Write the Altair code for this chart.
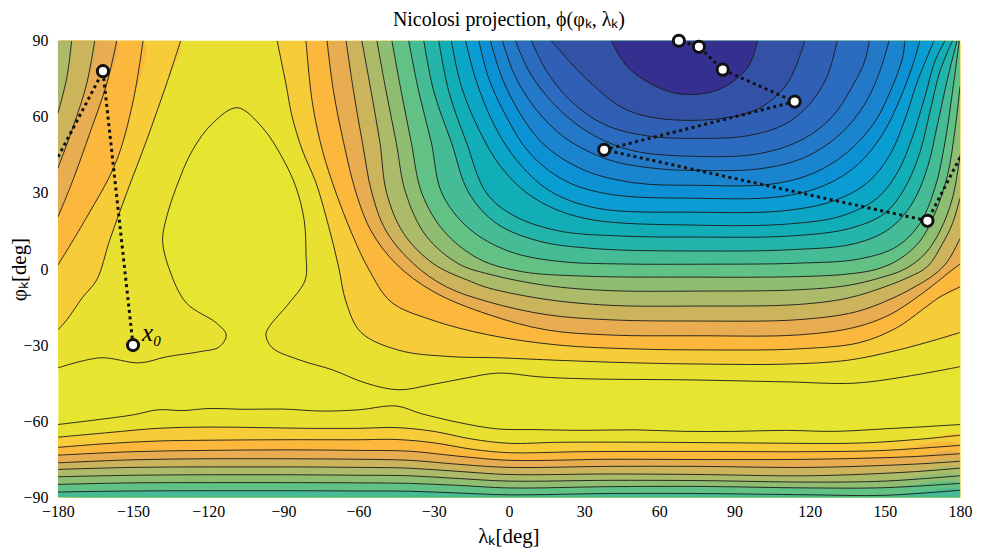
import altair as alt
import pandas as pd

# ---------------- colours of the 21 filled bands (lowest -> highest) ----------------
BANDS = ["#35308f", "#3352a6", "#2f60b5", "#2b6cc0", "#2478c8", "#1a84cf", "#0d91d5",
         "#099dd3", "#0ba6c6", "#12aeb8", "#23b5a9", "#45bc96", "#62c184", "#8fbe72",
         "#abbb69", "#cbb45c", "#e8ad50", "#fbb83c", "#f6cc39", "#e8e132", "#e6e530"]

# ---------------- contour lines (lambda_K, phi_K) ----------------
# northern basin contours, level 1 (innermost) .. level 20
N01 = [(40.8, 90), (47.5, 79.5), (60.6, 71.1), (71.4, 68.8), (84.5, 71.1), (95.3, 79.5), (99.2, 90)]
N02 = [(16.9, 90), (31.6, 74.3), (47.5, 62.5), (71.4, 58.6), (98, 62.5), (111, 73), (118, 90)]
N03 = [(9, 90), (15, 78), (25, 66), (38, 57), (55, 52.5), (75, 51.5), (95, 52.5), (110, 57), (120, 65), (127, 76), (131, 90)]
N04 = [(2.6, 90), (8, 78), (17, 66), (30, 55), (48, 47), (75, 44.4), (100, 45.5), (117, 51), (129, 60), (137, 72), (142, 82), (143.8, 90)]
N05 = [(-2.6, 90), (2, 77), (10, 64), (22, 52), (40, 43), (60, 39.5), (75, 38.9), (100, 39.5), (118, 44), (132, 53), (142, 65), (148, 78), (151.7, 90)]
N06 = [(-7.4, 90), (-3, 76), (4, 62), (14, 49), (30, 39), (50, 34), (75, 33), (105, 33.5), (122, 38), (135, 46), (146, 58), (153, 72), (157, 83), (158, 90)]
N07 = [(-12, 90), (-8, 75), (-1, 60), (8, 46), (22, 35), (40, 29.5), (75, 27.9), (108, 28.5), (126, 33), (139, 41), (149, 53), (156, 67), (161, 80), (164, 90)]
N08 = [(-17.3, 90), (-13, 74), (-6, 57), (3, 43), (16, 31), (35, 24), (75, 22.4), (110, 23), (130, 27), (143, 34), (152, 45), (158, 59), (163, 74), (169.6, 90)]
N09 = [(-23, 90), (-19, 72), (-12, 55), (-3, 40), (10, 28), (30, 20), (75, 17.3), (112, 17.8), (133, 21), (147, 28), (155, 38), (161, 52), (166, 68), (170, 82), (174, 90)]
N10 = [(-28, 90), (-24, 70), (-17, 50), (-9, 30), (2, 21), (20, 15), (45, 13), (75, 12.6), (112, 13), (136, 16), (150, 22), (158, 32), (164, 46), (168, 62), (172, 78), (177, 90)]
N11 = [(-34, 90), (-30, 70), (-23, 50), (-16, 30), (-5, 18), (12, 11), (35, 8), (75, 7.1), (112, 7.6), (138, 10), (152, 16), (161, 26), (167, 40), (171, 57), (175, 75), (178.8, 90)]
N12 = [(-40, 90), (-36, 70), (-31, 50), (-26.8, 30), (-16, 16), (0, 7), (20, 3), (45, 2), (75, 1.9), (115, 2.3), (140, 4), (155, 9), (164, 18), (170, 32), (174, 50), (177, 70), (179.7, 90)]
N13 = [(-46.7, 90), (-43, 70), (-39, 50), (-34.8, 30), (-26, 15), (-12, 4), (5, -1), (30, -2.8), (75, -3.2), (115, -3), (135, -2), (147, 0), (156, 4), (164, 11), (170, 22), (175, 37), (178, 55), (180, 72)]
N14 = [(-52.7, 90), (-49, 70), (-45, 50), (-41.2, 30), (-33, 13), (-20, 2), (-8, -2), (15, -6.5), (40, -8.5), (75, -8.7), (115, -8.2), (135, -6.5), (148, -3.5), (158, 0), (166, 6), (172, 15), (177, 28), (180, 45)]
N15 = [(-58.7, 90), (-55, 70), (-51.5, 50), (-48.8, 30), (-42, 14), (-30, 2), (-15, -5), (-8, -7.5), (15, -12), (40, -14.3), (75, -14.6), (115, -14), (135, -11.5), (150, -7), (160, -3), (167, 1), (173, 10), (177, 18), (180, 28)]
N16 = [(-65, 90), (-62, 70), (-58.5, 50), (-54.7, 30), (-49, 15), (-38, 2), (-25, -7), (-8, -13), (15, -18), (40, -20), (75, -20.5), (115, -20), (138, -17), (152, -12), (162, -7), (170, -2), (175, 3), (180, 12)]
N17 = [(-72.6, 90), (-70, 70), (-66, 50), (-61, 30), (-55, 15), (-45, 2), (-30, -9), (-8, -18), (15, -24), (40, -26), (75, -26.3), (115, -26), (138, -23), (152, -18), (163, -11), (171, -5), (176, -1), (180, 2)]
N18 = [(-81, 90), (-78.5, 66), (-74.5, 47), (-69, 30), (-62.7, 14), (-56, 0), (-47, -13), (-31, -20), (-8, -26), (20, -30), (50, -31.5), (80, -31.9), (115, -31.5), (140, -29), (155, -23), (165, -16), (172, -11), (180, -7)]
N19 = [(-92.5, 90), (-89, 73), (-86.5, 60), (-82.5, 47), (-77, 34), (-72, 17), (-68, 1), (-65, -13), (-59, -25), (-44, -32), (-24, -34.5), (-4, -35), (20, -36), (50, -37), (80, -37.5), (110, -37.5), (135, -36), (155, -32), (170, -28), (180, -25)]
N20 = [(-180, -39), (-163, -35), (-147.4, -37), (-136.6, -34.6), (-123.5, -32.6), (-115.6, -30.7), (-112.8, -26),
       (-116.7, -21.3), (-128.7, -13.4), (-135.4, -0.4), (-138.2, 11.4), (-136.6, 20.4), (-132.7, 32.3),
       (-126.3, 46.8), (-118.3, 57.4), (-108.4, 63.6), (-98.4, 55.8), (-90.5, 44), (-85, 32.3), (-81.7, 19.2),
       (-81, 6.3), (-81.3, -4.3), (-87.7, -13.4), (-95.7, -22.8), (-97, -26), (-94.5, -31), (-83.7, -35.8),
       (-70.6, -39.7), (-57, -45), (-44, -47.6), (-31, -45.6), (-17.3, -43), (-4, -41), (12, -42.5),
       (31.6, -43.3), (71.4, -43.7), (111, -44.5), (137.8, -45), (157.7, -42.5), (180, -38.5)]

# contours that come in through the left edge and leave through the top edge
W15 = [(-180, 61.3), (-176.4, 75.5), (-174.5, 90)]
W16 = [(-180, 39.7), (-174, 55.8), (-168.5, 73), (-165.3, 90)]
W17 = [(-180, 20.4), (-174, 35), (-167.3, 53.4), (-160.5, 73), (-156.5, 90)]
W18 = [(-180, 1.5), (-168.5, 20.4), (-157, 41.6), (-150, 66), (-146, 90)]
W19 = [(-180, -24), (-176.4, -20), (-170, -11), (-164.5, -4.3), (-159.3, 11.4), (-152.6, 29.8), (-144.6, 50.7), (-136.6, 73.1), (-131, 90)]

# southern contours, level 12 .. level 20
S12 = [(-180, -87.9), (-150, -87.5), (-120, -87.4), (-90, -87.4), (-60, -87.5), (-40, -87.6), (-20, -88.3), (0, -89), (40, -88.5), (75, -88.5), (120, -89), (150, -89.2), (180, -87.2)]
S13 = [(-180, -84.9), (-150, -84.3), (-120, -84.2), (-90, -84.2), (-60, -84.3), (-40, -84.5), (-20, -85.3), (0, -86.3), (40, -85.8), (75, -85.7), (120, -86.3), (150, -86.2), (180, -84.5)]
S14 = [(-180, -81.9), (-150, -81.3), (-120, -81.1), (-90, -81.1), (-60, -81.3), (-40, -81.5), (-20, -82.6), (0, -83.6), (40, -83.3), (75, -83.4), (120, -84), (150, -83.6), (180, -81.5)]
S15 = [(-180, -79), (-150, -78.2), (-120, -78), (-90, -78), (-60, -78.2), (-40, -78.5), (-20, -79.8), (0, -81), (40, -80.8), (75, -81), (120, -81.5), (160, -80), (180, -78.5)]
S16 = [(-180, -76.4), (-150, -75.2), (-120, -74.8), (-90, -74.8), (-60, -75), (-40, -75.4), (-20, -77), (0, -78.2), (40, -77.8), (75, -77.8), (120, -78.2), (160, -77), (180, -75.8)]
S17 = [(-180, -73.4), (-150, -72), (-120, -71.5), (-90, -71.3), (-60, -71.5), (-40, -71.8), (-20, -73.8), (0, -75.4), (40, -75), (75, -75.1), (120, -75), (160, -74), (180, -72.8)]
S18 = [(-180, -70.3), (-160, -68.8), (-140, -67.8), (-120, -67.5), (-90, -67.3), (-60, -67.3), (-45, -67.2), (-30, -68.5), (-15, -71), (0, -72.4), (30, -72), (75, -71.9), (120, -72), (150, -71.5), (180, -69.5)]
S19 = [(-180, -66.3), (-160, -64.5), (-140, -62.8), (-120, -62.3), (-100, -62.5), (-80, -62.8), (-60, -62.8), (-45, -62.5), (-30, -64), (-15, -67), (0, -68.7), (20, -68.3), (60, -68.3), (100, -68.6), (140, -68.6), (165, -67), (180, -65.5)]
S20 = [(-180, -61.3), (-165, -59.5), (-150, -57.5), (-140, -55.5), (-130, -55.8), (-120, -55), (-105, -55.3), (-90, -55.2),
       (-75, -56), (-60, -55.5), (-45, -54), (-35, -57), (-20, -60.5), (-5, -63), (10, -63.3), (30, -63.6), (50, -63.4),
       (70, -64), (90, -64), (110, -63.6), (130, -64), (150, -63), (165, -62.2), (180, -61.3)]

NORTH = [N01, N02, N03, N04, N05, N06, N07, N08, N09, N10, N11, N12, N13, N14, N15, N16, N17, N18, N19, N20]
WRAP = {15: W15, 16: W16, 17: W17, 18: W18, 19: W19}
SOUTH = {12: S12, 13: S13, 14: S14, 15: S15, 16: S16, 17: S17, 18: S18, 19: S19, 20: S20}

# optimisation path (x0 first); the jump across the seam is at phi ~ 44
PATH_A = [(-150, -30), (-162, 78), (-180, 44)]
PATH_B = [(180, 44), (167, 19), (38, 47), (114, 66), (85.3, 78.6), (75.8, 87.6), (67.8, 90)]
MARKERS = [(-150, -30), (-162, 78), (167, 19), (38, 47), (114, 66), (85.3, 78.6), (75.8, 87.6), (67.8, 90)]

LAM_MIN, LAM_MAX, PHI_MIN, PHI_MAX = -180, 180, -90, 90


def closure(pts, north):
    (l0, p0), (l1, p1) = pts[0], pts[-1]
    if p0 == PHI_MAX and p1 == PHI_MAX:
        return []
    if p0 == PHI_MAX and l1 == LAM_MAX:
        return [(LAM_MAX, PHI_MAX)]
    if l0 == LAM_MIN and p1 == PHI_MAX:
        return [(LAM_MIN, PHI_MAX)]
    if north:
        return [(LAM_MAX, PHI_MAX), (LAM_MIN, PHI_MAX)]
    return [(LAM_MAX, PHI_MIN), (LAM_MIN, PHI_MIN)]


poly_rows, line_rows = [], []
pid = 0
for k in range(20, 0, -1):
    pieces = [(NORTH[k - 1], True)]
    if k in WRAP:
        pieces.append((WRAP[k], True))
    if k in SOUTH:
        pieces.append((SOUTH[k], False))
    for pts, north in pieces:
        full = list(pts) + closure(pts, north)
        for i, (lam, phi) in enumerate(full):
            poly_rows.append({"pid": f"p{pid:03d}", "i": i, "lam": lam, "phi": phi, "band": f"b{k - 1:02d}"})
        for i, (lam, phi) in enumerate(pts):
            line_rows.append({"cid": f"c{pid:03d}", "i": i, "lam": lam, "phi": phi})
        pid += 1

poly_df = pd.DataFrame(poly_rows)
line_df = pd.DataFrame(line_rows)
path_df = pd.DataFrame(
    [{"seg": "a", "i": i, "lam": l, "phi": p} for i, (l, p) in enumerate(PATH_A)]
    + [{"seg": "b", "i": i, "lam": l, "phi": p} for i, (l, p) in enumerate(PATH_B)]
)
mark_df = pd.DataFrame([{"lam": l, "phi": p} for l, p in MARKERS])
label_df = pd.DataFrame([{"lam": MARKERS[0][0], "phi": MARKERS[0][1], "txt": "x₀"}])

FONT = "Liberation Serif"
xs = alt.Scale(domain=[LAM_MIN, LAM_MAX], nice=False, zero=False)
ys = alt.Scale(domain=[PHI_MIN, PHI_MAX], nice=False, zero=False)
minus = "replace(datum.label, '-', '\u2212')"
x_axis = alt.Axis(values=list(range(-180, 181, 30)), labelExpr=minus, title="λₖ[deg]", ticks=False,
                  domain=False, grid=False, labelPadding=6, labelFlush=False,
                  titleX=452, titleY=45, titleBaseline="alphabetic", titleAlign="center")
y_axis = alt.Axis(values=list(range(-90, 91, 30)), labelExpr=minus, title="φₖ[deg]", ticks=False,
                  domain=False, grid=False, labelPadding=10,
                  titleX=-38, titleY=229, titleAngle=-90, titleAlign="center", titleBaseline="middle")

X = alt.X("lam:Q", scale=xs, axis=x_axis)
Y = alt.Y("phi:Q", scale=ys, axis=y_axis)
CURVE = "catmull-rom"

fills = alt.Chart(poly_df).mark_line(strokeWidth=0, clip=True, interpolate=CURVE).encode(
    x=X, y=Y, detail="pid:N", order="i:Q",
    fill=alt.Fill("band:N", scale=alt.Scale(domain=[f"b{j:02d}" for j in range(21)], range=BANDS), legend=None),
)
lines = alt.Chart(line_df).mark_line(color="#1a1a1a", strokeWidth=0.9, clip=True, interpolate=CURVE).encode(
    x="lam:Q", y="phi:Q", detail="cid:N", order="i:Q"
)
path = alt.Chart(path_df).mark_line(color="#111111", strokeWidth=3, strokeDash=[3, 3.5], clip=True).encode(
    x="lam:Q", y="phi:Q", detail="seg:N", order="i:Q"
)
marks = alt.Chart(mark_df).mark_circle(color="white", opacity=1, stroke="#111111", strokeWidth=3, size=125).encode(
    x="lam:Q", y="phi:Q"
)
label = alt.Chart(label_df).mark_text(font=FONT, fontStyle="italic", fontSize=25, align="left",
                                      baseline="alphabetic", dx=9, dy=-4, color="black").encode(
    x="lam:Q", y="phi:Q", text="txt:N"
)

chart = alt.layer(fills, lines, path, marks, label).properties(
    width=905, height=458,
    title=alt.Title("Nicolosi projection, ϕ(φₖ, λₖ)", font=FONT, fontSize=20, fontWeight="normal",
                    anchor="middle", offset=-1, color="black"),
    autosize=alt.AutoSizeParams(type="none"),
    padding={"left": 50, "top": 32, "right": 14, "bottom": 50},
).configure_view(fill=BANDS[20], stroke="transparent").configure_axis(
    labelFont=FONT, labelFontSize=16, labelColor="black", titleFont=FONT, titleFontSize=21,
    titleFontWeight="normal", titleColor="black"
)

chart.save("out.html", embed_options={"renderer": "svg", "actions": False})
